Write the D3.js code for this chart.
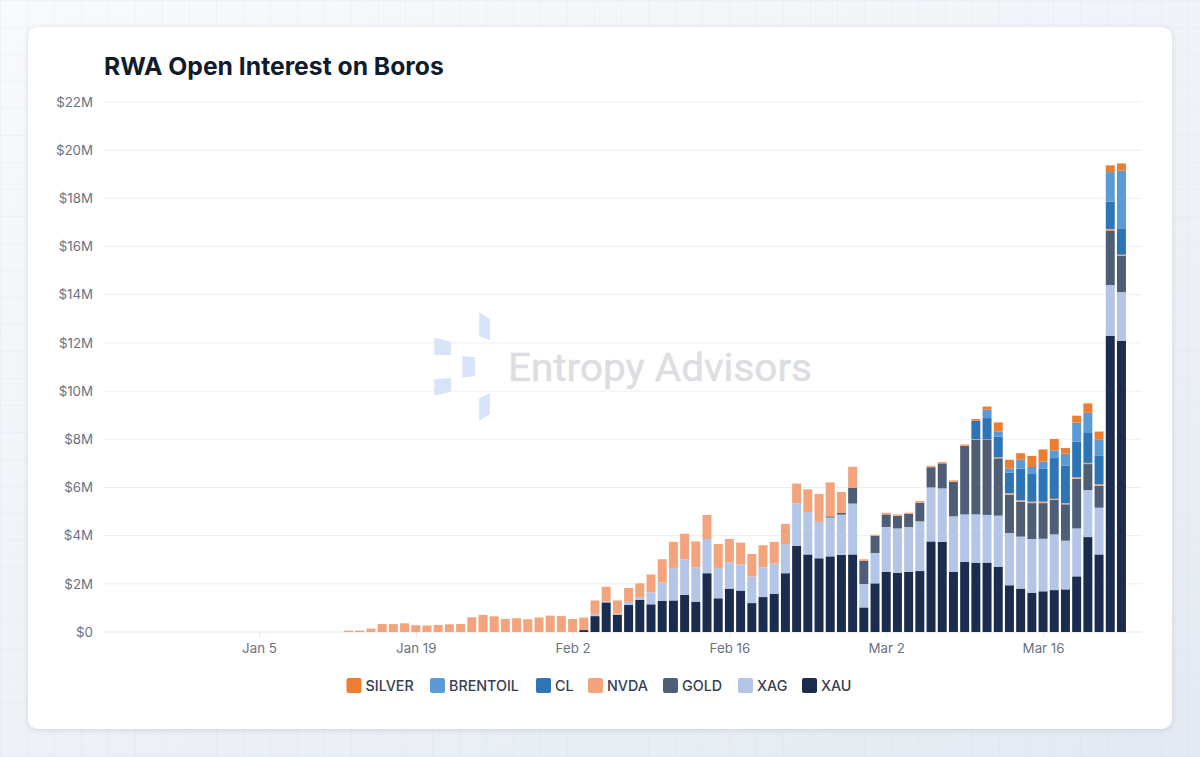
<!DOCTYPE html>
<html>
<head>
<meta charset="utf-8">
<script src="https://cdn.jsdelivr.net/npm/d3@7"></script>
<style>
  html, body { margin: 0; padding: 0; }
  body {
    width: 1200px; height: 757px; overflow: hidden;
    background-color: #eef1f7;
    background-image:
      linear-gradient(to right, rgba(205,213,226,.16) 1px, transparent 1px),
      linear-gradient(to bottom, rgba(205,213,226,.16) 1px, transparent 1px),
      linear-gradient(155deg, #f8fafc 0%, #eef2f7 55%, #e4eaf2 100%);
    background-size: 27px 27px, 27px 27px, 100% 100%;
  }
  #card {
    position: absolute; left: 28px; top: 27px; width: 1144px; height: 702px;
    background: #fff; border-radius: 10px;
    box-shadow: 0 1px 6px rgba(60,72,100,.14);
  }
  svg { position: absolute; left: 0; top: 0; }
  text { font-family: Inter, "Noto Sans", sans-serif; }
</style>
</head>
<body>
<div id="card"></div>
<svg id="chart" width="1200" height="757"></svg>
<script>
// daily values in $M, Jan 13 to Mar 23
var firstDay = new Date(2026, 0, 13);
var lastDay = new Date(2026, 2, 23);
var days = d3.timeDay.range(firstDay, d3.timeDay.offset(lastDay, 1));

var XAU = [0,0,0,0,0,0,0,0,0,0,0,0,0,0,0,0,0,0,0,0,0,
  .08,.66,1.23,.72,1.12,1.33,1.15,1.29,1.31,1.54,1.26,2.44,1.40,1.80,1.72,1.20,1.45,1.58,2.44,3.57,3.22,3.06,
  3.14,3.20,3.22,1.02,
  2.02,2.50,2.45,2.50,2.53,3.76,3.74,2.50,2.91,
  2.88,2.88,2.71,1.94,1.80,1.63,1.69,1.74,1.77,2.31,3.94,3.22,12.29,12.09];
var XAG = [0,0,0,0,0,0,0,0,0,0,0,0,0,0,0,0,0,0,0,0,0,
  0,.09,.04,.04,.13,.10,.50,.76,1.35,1.48,1.42,1.42,1.26,1.09,1.08,1.11,1.23,1.26,1.21,1.77,1.76,1.51,
  1.61,1.67,2.11,.97,
  1.26,1.86,1.85,1.86,2.06,2.24,2.22,2.30,1.97,
  2.00,1.98,2.12,2.17,2.16,2.23,2.18,2.31,2.02,1.99,1.95,1.94,2.11,2.02];
var GOLD = [0,0,0,0,0,0,0,0,0,0,0,0,0,0,0,0,0,0,0,0,0,
  0,0,0,0,0,0,0,0,0,0,0,0,0,0,0,0,0,0,0,0,0,0,
  .05,.07,.65,.96,
  .71,.52,.53,.54,.78,.84,1.04,1.43,2.84,
  3.09,3.11,2.38,1.59,1.45,1.49,1.48,1.44,1.51,2.06,1.08,.91,2.27,1.50];
var NVDA = [.06,.06,.14,.33,.33,.36,.28,.27,.29,.32,.33,.61,.71,.65,.54,.57,.53,.60,.68,.66,.54,
  .52,.56,.61,.55,.58,.59,.74,.97,1.08,1.06,1.08,1.00,.99,.97,.91,.93,.92,.90,.83,.82,.94,1.16,
  1.41,.87,.88,.07,
  .05,.07,.05,.05,.07,.06,.06,.07,.07,
  .03,.02,.04,.06,.06,.06,.06,.04,.05,.06,.05,.06,.06,.05];
var CL = [0,0,0,0,0,0,0,0,0,0,0,0,0,0,0,0,0,0,0,0,0,
  0,0,0,0,0,0,0,0,0,0,0,0,0,0,0,0,0,0,0,0,0,0,
  0,0,0,0,
  0,0,0,0,0,0,0,0,0,
  .76,.89,.86,.85,1.31,1.15,1.36,1.69,1.55,1.48,1.24,1.18,1.13,1.07];
var BRENTOIL = [0,0,0,0,0,0,0,0,0,0,0,0,0,0,0,0,0,0,0,0,0,
  0,0,0,0,0,0,0,0,0,0,0,0,0,0,0,0,0,0,0,0,0,0,
  0,0,0,0,
  0,0,0,0,0,0,0,0,0,
  .01,.35,.22,.18,.37,.29,.30,.32,.50,.79,.84,.67,1.23,2.42];
var SILVER = [0,0,0,0,0,0,0,0,0,0,0,0,0,0,0,0,0,0,0,0,0,
  0,0,0,0,0,0,0,0,0,0,0,0,0,0,0,0,0,0,0,0,0,0,
  0,0,0,0,
  0,0,0,0,0,0,0,0,0,
  .07,.13,.37,.36,.27,.46,.51,.47,.24,.29,.39,.34,.28,.30];

var seriesNames = ["XAU", "XAG", "GOLD", "NVDA", "CL", "BRENTOIL", "SILVER"];
var seriesValues = [XAU, XAG, GOLD, NVDA, CL, BRENTOIL, SILVER];
var seriesColors = ["#1b2d4f", "#b4c6e7", "#4f5e77", "#f4a47c", "#2e75b6", "#5b9bd5", "#ed7d31"];

var yTicks = [0, 2, 4, 6, 8, 10, 12, 14, 16, 18, 20, 22];
var xTicks = [new Date(2026,0,5), new Date(2026,0,19), new Date(2026,1,2), new Date(2026,1,16), new Date(2026,2,2), new Date(2026,2,16)];
var xTickFormat = d3.timeFormat("%b %-d");

var margin = { left: 104, right: 58, top: 102, bottom: 125 };
var width = 1200, height = 757;

var svg = d3.select("#chart");

var x = d3.scaleTime()
  .domain([new Date(2025, 11, 22, 4), new Date(2026, 2, 24, 20)])
  .range([margin.left, width - margin.right]);
var y = d3.scaleLinear()
  .domain([0, 22])
  .range([height - margin.bottom, margin.top]);

// gridlines
svg.append("g").selectAll("line")
  .data(yTicks)
  .join("line")
  .attr("x1", margin.left)
  .attr("x2", width - margin.right)
  .attr("y1", d => y(d))
  .attr("y2", d => y(d))
  .attr("stroke", d => d == 0 ? "#e2e5ea" : "#eceef1")
  .attr("stroke-width", 1);

// watermark logo + name
var logoShapes = [
  "479.3,312.3 490,319.3 490,340 479.3,336",
  "434.3,337.7 451,341.7 451,355 434.3,355",
  "462.3,356 475,357.3 475,376 462.3,377.7",
  "434.3,379.3 451,378 451,391.7 434.3,395.7",
  "479.3,398.3 490,393.3 490,414 479.3,420.7"
];
svg.append("g").selectAll("polygon")
  .data(logoShapes)
  .join("polygon")
  .attr("points", d => d)
  .attr("fill", "#d8e4f9");
svg.append("text")
  .attr("x", 508)
  .attr("y", 381)
  .attr("textLength", 304)
  .attr("lengthAdjust", "spacingAndGlyphs")
  .style("font-family", "Roboto, sans-serif")
  .style("font-size", "38px")
  .style("font-weight", 400)
  .attr("fill", "#dcdee2")
  .attr("stroke", "#dcdee2")
  .attr("stroke-width", 0.5)
  .text("Entropy Advisors");

// stacked bars
var rows = days.map((d, i) => {
  var row = { day: d };
  seriesNames.forEach((name, s) => { row[name] = seriesValues[s][i]; });
  return row;
});
var stacked = d3.stack().keys(seriesNames)(rows);
var barWidth = (x(d3.timeDay.offset(firstDay, 1)) - x(firstDay)) * 0.8;

svg.append("g").selectAll("g")
  .data(stacked)
  .join("g")
  .attr("fill", (d, i) => seriesColors[i])
  .selectAll("rect")
  .data(d => d.filter(p => p[1] > p[0]))
  .join("rect")
  .attr("x", d => x(d.data.day) - barWidth / 2)
  .attr("width", barWidth)
  .attr("y", d => y(d[1]))
  .attr("height", d => y(d[0]) - y(d[1]));

// axes
var yAxis = d3.axisLeft(y).tickValues(yTicks).tickSize(0).tickPadding(11).tickFormat(d => "$" + d + (d == 0 ? "" : "M"));
var xAxis = d3.axisBottom(x).tickValues(xTicks).tickSize(5).tickPadding(7).tickFormat(xTickFormat);

var gy = svg.append("g").attr("transform", "translate(" + margin.left + ",0)").call(yAxis);
gy.select(".domain").remove();
gy.selectAll("text").attr("fill", "#6b7280").style("font-size", "13.3px").style("font-family", "Inter, sans-serif");

var gx = svg.append("g").attr("transform", "translate(0," + (height - margin.bottom) + ")").call(xAxis);
gx.select(".domain").remove();
gx.selectAll("line").attr("stroke", "#e2e5ea");
gx.selectAll("text").attr("fill", "#6b7280").style("font-size", "13.3px").style("font-family", "Inter, sans-serif");

// title
svg.append("text")
  .attr("x", 104)
  .attr("y", 75)
  .attr("fill", "#101b2d")
  .style("font-size", "24.7px")
  .style("font-weight", 700)
  .text("RWA Open Interest on Boros");

// legend, top of stack first
var legendX = [346.5, 430, 536, 588, 663, 738, 802];
var legendItems = seriesNames.slice().reverse();
var legendColors = seriesColors.slice().reverse();
var legend = svg.append("g").selectAll("g")
  .data(legendItems)
  .join("g")
  .attr("transform", (d, i) => "translate(" + legendX[i] + ",678)");
legend.append("rect")
  .attr("width", 15)
  .attr("height", 15)
  .attr("rx", 2)
  .attr("fill", (d, i) => legendColors[i]);
legend.append("text")
  .attr("x", 19)
  .attr("y", 13)
  .attr("fill", "#374151")
  .style("font-size", "14.3px")
  .style("font-weight", 500)
  .text(d => d);
</script>
</body>
</html>
